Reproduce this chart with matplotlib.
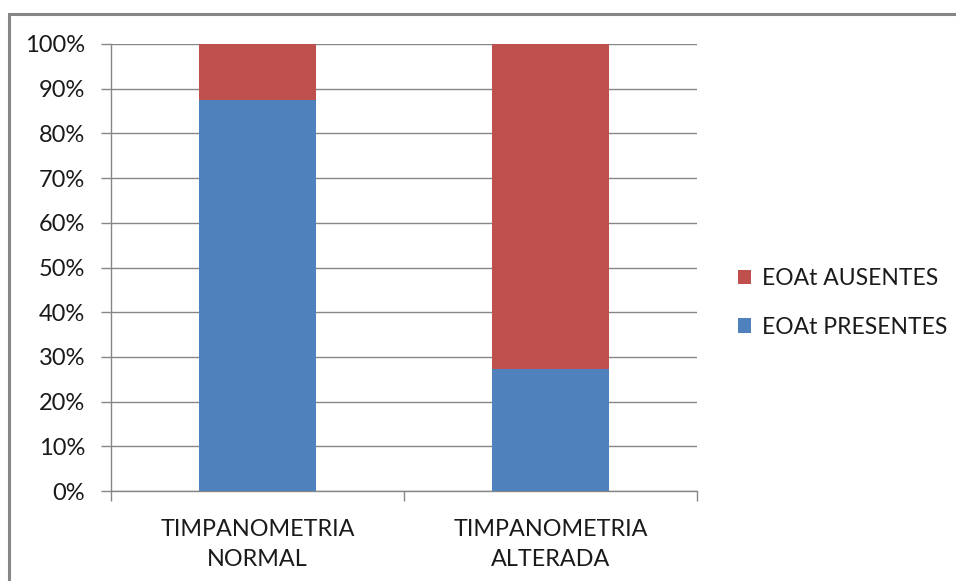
import matplotlib
matplotlib.use("Agg")
import matplotlib.pyplot as plt
from matplotlib.patches import Rectangle
from matplotlib.ticker import PercentFormatter, MultipleLocator

categories = ["TIMPANOMETRIA\nNORMAL", "TIMPANOMETRIA\nALTERADA"]
presentes = [87.5, 27.3]
ausentes = [100 - v for v in presentes]

blue = "#4F81BD"
red = "#C0504D"
grid_c = "#868686"
text_c = "#1a1a1a"

plt.rcParams["font.family"] = ["Lato", "DejaVu Sans"]

W, H = 956, 581
fig = plt.figure(figsize=(W / 100, H / 100), dpi=100)
ax = fig.add_axes([111 / W, (H - 491) / H, (697 - 111) / W, (491 - 44) / H])

x = list(range(len(categories)))
b1 = ax.bar(x, presentes, width=0.4, color=blue, label="EOAt PRESENTES", zorder=3)
b2 = ax.bar(x, ausentes, bottom=presentes, width=0.4, color=red, label="EOAt AUSENTES", zorder=3)

ax.set_xlim(-0.5, 1.5)
ax.set_ylim(0, 100)
ax.yaxis.set_major_locator(MultipleLocator(10))
ax.yaxis.set_major_formatter(PercentFormatter(decimals=0))
ax.grid(axis="y", color=grid_c, linewidth=1, zorder=0)

ax.set_xticks([-0.5, 0.5, 1.5])
ax.set_xticklabels([])
ax.set_xticks(x, minor=True)
ax.set_xticklabels(categories, minor=True, fontsize=16.8, color=text_c, linespacing=1.55)
ax.tick_params(axis="x", which="minor", length=0, pad=20)
ax.tick_params(axis="x", which="major", length=7, color=grid_c, width=1)
ax.tick_params(axis="y", length=7, color=grid_c, width=1, labelsize=17, labelcolor=text_c, pad=11.5)

for s in ["top", "right"]:
    ax.spines[s].set_visible(False)
for s in ["left", "bottom"]:
    ax.spines[s].set_color(grid_c)
    ax.spines[s].set_linewidth(1)

handles = [b2, b1]
fig.legend(handles, [h.get_label() for h in handles], loc="center left",
           bbox_to_anchor=(717 / W, 1 - 303 / H), frameon=False, fontsize=16.5,
           handlelength=0.6, handleheight=0.6, handletextpad=0.45, labelspacing=1.2,
           labelcolor=text_c)

fig.patches.append(Rectangle((9 / W, -0.05), 1.1, 1 - 14 / H + 0.05, transform=fig.transFigure,
                             fill=False, edgecolor=grid_c, linewidth=2.2))

fig.savefig("out.png", dpi=100, facecolor="white")
